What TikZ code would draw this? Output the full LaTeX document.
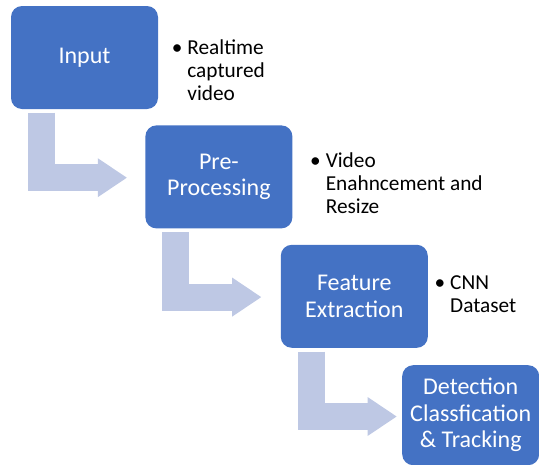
\documentclass[tikz,border=0pt]{standalone}
\usepackage{fontspec}
\setmainfont{Carlito}
\usetikzlibrary{positioning,arrows.meta}
\definecolor{stepblue}{RGB}{68,114,196}
\definecolor{flowblue}{RGB}{190,200,228}
\tikzset{
    stage/.style = {
        fill = stepblue,
        text = white,
        rounded corners = 11pt,
        minimum width = 147pt,
        minimum height = 103pt,
        align = center,
        font = \fontsize{24}{26.5}\selectfont,
        },
    last stage/.style = {
        minimum width = 137pt,
        minimum height = 100pt,
        },
    bullets/.style = {
        anchor = north west,
        align = left,
        inner sep = 0pt,
        font = \fontsize{21.3}{23}\selectfont,
        },
    flow/.style = {
        draw = flowblue,
        line width = 27pt,
        -{Triangle[length=29pt, width=39pt, line width=0pt]},
        },
}
\begin{document}
\begin{tikzpicture}[x=1pt, y=-1pt]
    \useasboundingbox (0,0) rectangle (539,464);
    \clip (0,0) rectangle (539,464);

    \node[stage] (input) at (84.5,57.5) {Input};
    \node[stage, below right=16pt and -13pt of input] (pre) {Pre-\\Processing};
    \node[stage, below right=16pt and -12pt of pre] (feature) {Feature\\Extraction};
    \node[stage, last stage, below right=17pt and -26pt of feature] (detect) {Detection\\Classfication\\\& Tracking};

    \node[bullets] (inputnote) at ([shift={(29,31.9)}]input.north east) {\strut\llap{\textbullet\hspace{5pt}}Realtime\\captured\\video};
    \node[bullets] (prenote) at ([shift={(33,26.4)}]pre.north east) {\strut\llap{\textbullet\hspace{5pt}}Video\\Enahncement and\\Resize};
    \node[bullets] (featurenote) at ([shift={(22,28.4)}]feature.north east) {\strut\llap{\textbullet\hspace{5pt}}CNN\\Dataset};

    \foreach \a in {input, pre, feature}
        \draw[flow] ([shift={(30.5,3.5)}]\a.south west) |- ([shift={(116,68.5)}]\a.south west);
\end{tikzpicture}
\end{document}
